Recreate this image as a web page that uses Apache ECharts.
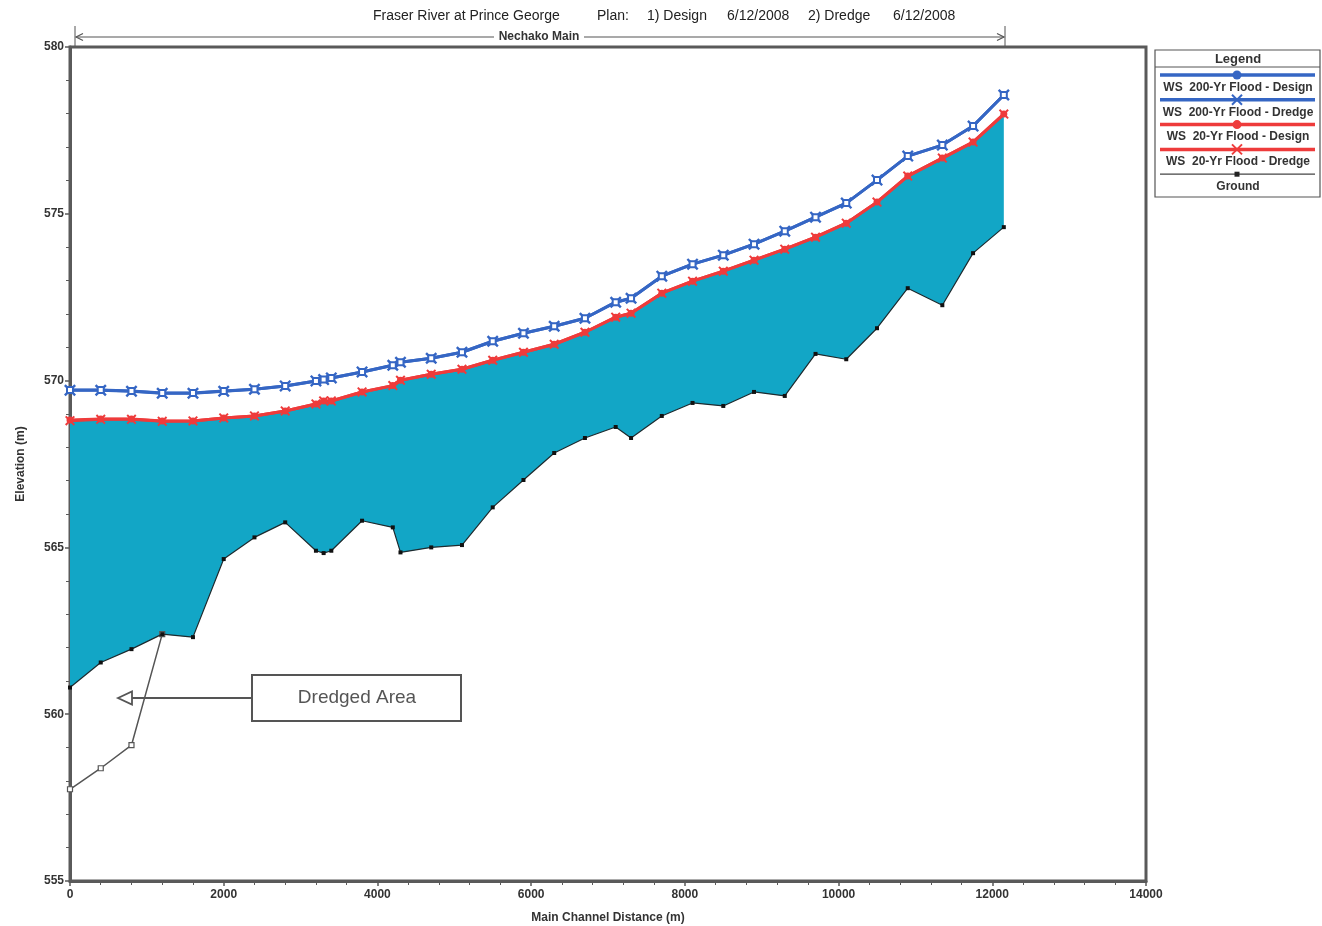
<!DOCTYPE html>
<html>
<head>
<meta charset="utf-8">
<title>Fraser River at Prince George - Profile</title>
<script src="https://cdn.jsdelivr.net/npm/echarts@6/dist/echarts.min.js"></script>
<style>
  html, body { margin: 0; padding: 0; background: #ffffff; }
  #chart { width: 1322px; height: 926px; }
</style>
</head>
<body>
<div id="chart"></div>
<script>
// River stations along the Nechako main channel (m)
const stations = [0, 400, 800, 1200, 1600, 2000, 2400, 2800, 3200, 3300, 3400, 3800, 4200, 4300,
  4700, 5100, 5500, 5900, 6300, 6700, 7100, 7300, 7700, 8100, 8500, 8900, 9300, 9700, 10100,
  10500, 10900, 11350, 11750, 12150];

// Water surface, 200-year flood (m)
const ws200Design = [569.72, 569.72, 569.69, 569.63, 569.63, 569.69, 569.74, 569.84, 569.99, 570.03,
  570.08, 570.26, 570.46, 570.55, 570.67, 570.85, 571.18, 571.42, 571.63, 571.87, 572.35, 572.47,
  573.13, 573.49, 573.76, 574.09, 574.48, 574.90, 575.32, 576.01, 576.73, 577.06, 577.63, 578.56];
const ws200Dredge = [569.71, 569.71, 569.68, 569.62, 569.62, 569.68, 569.74, 569.84, 569.99, 570.03,
  570.08, 570.26, 570.46, 570.55, 570.67, 570.85, 571.18, 571.42, 571.63, 571.87, 572.35, 572.47,
  573.13, 573.49, 573.76, 574.09, 574.48, 574.90, 575.32, 576.01, 576.73, 577.06, 577.63, 578.56];

// Water surface, 20-year flood (m)
const ws20Design = [568.82, 568.85, 568.85, 568.79, 568.79, 568.88, 568.94, 569.09, 569.30, 569.39,
  569.39, 569.66, 569.85, 570.01, 570.19, 570.34, 570.61, 570.85, 571.09, 571.45, 571.90, 572.02,
  572.62, 572.98, 573.28, 573.61, 573.94, 574.30, 574.72, 575.35, 576.13, 576.67, 577.15, 577.99];
const ws20Dredge = [568.80, 568.84, 568.84, 568.78, 568.79, 568.88, 568.94, 569.09, 569.30, 569.39,
  569.39, 569.66, 569.85, 570.01, 570.19, 570.34, 570.61, 570.85, 571.09, 571.45, 571.90, 572.02,
  572.62, 572.98, 573.28, 573.61, 573.94, 574.30, 574.72, 575.35, 576.13, 576.67, 577.15, 577.99];

// Channel invert, design geometry (m)
const groundDesign = [560.80, 561.55, 561.95, 562.40, 562.31, 564.65, 565.30, 565.75, 564.90, 564.83,
  564.90, 565.80, 565.60, 564.85, 565.00, 565.07, 566.20, 567.02, 567.83, 568.28, 568.61, 568.28,
  568.94, 569.33, 569.24, 569.66, 569.54, 570.80, 570.64, 571.57, 572.77, 572.26, 573.82, 574.60];

// Channel invert after dredging the downstream reach (m)
const dredgedStations = [0, 400, 800, 1200];
const groundDredged = [557.75, 558.38, 559.07, 562.40];

// Axis tick values
const xTicks = [0, 2000, 4000, 6000, 8000, 10000, 12000, 14000];
const yTicks = [555, 560, 565, 570, 575, 580];

const BLUE = '#3566c4';
const RED = '#ee3b3b';
const TEAL = '#12a6c6';
const AXIS = '#5a5a5a';
const FONT = '"Liberation Sans", Arial, sans-serif';
const X_SYMBOL = 'path://M0,1.4L1.4,0L5,3.6L8.6,0L10,1.4L6.4,5L10,8.6L8.6,10L5,6.4L1.4,10L0,8.6L3.6,5Z';

const pairs = (xs, ys) => xs.map((x, i) => [x, ys[i]]);

const chart = echarts.init(document.getElementById('chart'), null, { renderer: 'canvas' });

// Legend drawn as a boxed list: sample line above each caption
const legendRows = [
  { label: 'WS  200-Yr Flood - Design', color: BLUE, width: 3.5, marker: 'circle' },
  { label: 'WS  200-Yr Flood - Dredge', color: BLUE, width: 3.5, marker: 'x' },
  { label: 'WS  20-Yr Flood - Design', color: RED, width: 3.5, marker: 'circle' },
  { label: 'WS  20-Yr Flood - Dredge', color: RED, width: 3.5, marker: 'x' },
  { label: 'Ground', color: '#444444', width: 1.2, marker: 'square' }
];
const legendGraphics = [
  { type: 'rect', shape: { x: 1155, y: 50, width: 165, height: 147 },
    style: { fill: '#ffffff', stroke: '#555555', lineWidth: 1.2 }, z: 10 },
  { type: 'text', x: 1238, y: 59, z: 11,
    style: { text: 'Legend', font: 'bold 13px ' + FONT, fill: '#333333', align: 'center', verticalAlign: 'middle' } },
  { type: 'line', shape: { x1: 1155, y1: 67, x2: 1320, y2: 67 }, style: { stroke: '#555555', lineWidth: 1 }, z: 11 }
];
legendRows.forEach((row, i) => {
  const ly = 75 + i * 24.8;
  legendGraphics.push({ type: 'line', shape: { x1: 1160, y1: ly, x2: 1315, y2: ly },
    style: { stroke: row.color, lineWidth: row.width }, z: 11 });
  if (row.marker === 'circle') {
    legendGraphics.push({ type: 'circle', shape: { cx: 1237, cy: ly, r: 4.5 }, style: { fill: row.color }, z: 12 });
  } else if (row.marker === 'x') {
    legendGraphics.push({ type: 'polyline', shape: { points: [[1232, ly - 5], [1242, ly + 5]] },
      style: { stroke: row.color, lineWidth: 2 }, z: 12 });
    legendGraphics.push({ type: 'polyline', shape: { points: [[1232, ly + 5], [1242, ly - 5]] },
      style: { stroke: row.color, lineWidth: 2 }, z: 12 });
  } else {
    legendGraphics.push({ type: 'rect', shape: { x: 1234.5, y: ly - 2.5, width: 5, height: 5 },
      style: { fill: '#222222' }, z: 12 });
  }
  legendGraphics.push({ type: 'text', x: 1238, y: ly + 12.5, z: 12,
    style: { text: row.label, font: 'bold 12px ' + FONT, fill: '#333333', align: 'center', verticalAlign: 'middle' } });
});

// Title pieces
const titleParts = [
  { text: 'Fraser River at Prince George', x: 373 },
  { text: 'Plan:', x: 597 },
  { text: '1) Design', x: 647 },
  { text: '6/12/2008', x: 727 },
  { text: '2) Dredge', x: 808 },
  { text: '6/12/2008', x: 893 }
];
const titleGraphics = titleParts.map(p => ({
  type: 'text', x: p.x, y: 16,
  style: { text: p.text, font: '14px ' + FONT, fill: '#222222', align: 'left', verticalAlign: 'middle' }
}));

// Reach bracket above the plot
const reachGraphics = [
  { type: 'line', shape: { x1: 75, y1: 26, x2: 75, y2: 46 }, style: { stroke: '#555555', lineWidth: 1 } },
  { type: 'line', shape: { x1: 1005, y1: 26, x2: 1005, y2: 46 }, style: { stroke: '#555555', lineWidth: 1 } },
  { type: 'line', shape: { x1: 76, y1: 37, x2: 494, y2: 37 }, style: { stroke: '#555555', lineWidth: 1.2 } },
  { type: 'line', shape: { x1: 584, y1: 37, x2: 1004, y2: 37 }, style: { stroke: '#555555', lineWidth: 1.2 } },
  { type: 'polyline', shape: { points: [[83, 33.5], [76, 37], [83, 40.5]] }, style: { stroke: '#555555', lineWidth: 1.2, fill: 'none' } },
  { type: 'polyline', shape: { points: [[997, 33.5], [1004, 37], [997, 40.5]] }, style: { stroke: '#555555', lineWidth: 1.2, fill: 'none' } },
  { type: 'text', x: 539, y: 37,
    style: { text: 'Nechako Main', font: 'bold 12px ' + FONT, fill: '#333333', align: 'center', verticalAlign: 'middle' } }
];

// Call-out for the dredged reach
const calloutGraphics = [
  { type: 'rect', shape: { x: 252, y: 675, width: 209, height: 46 },
    style: { fill: '#ffffff', stroke: '#555555', lineWidth: 2 }, z: 20 },
  { type: 'text', x: 357, y: 698, z: 21,
    style: { text: 'Dredged Area', font: '19px ' + FONT, fill: '#555555', align: 'center', verticalAlign: 'middle' } },
  { type: 'line', shape: { x1: 131, y1: 698, x2: 252, y2: 698 }, style: { stroke: '#555555', lineWidth: 2 }, z: 20 },
  { type: 'polygon', shape: { points: [[118, 698], [132, 691.5], [132, 704.5]] },
    style: { fill: '#ffffff', stroke: '#555555', lineWidth: 1.8 }, z: 20 }
];

const option = {
  animation: false,
  backgroundColor: '#ffffff',
  textStyle: { fontFamily: FONT },
  grid: { left: 70, top: 47, right: 176, bottom: 45, show: true, outerBoundsMode: 'none', containLabel: false,
    borderColor: AXIS, borderWidth: 3, backgroundColor: 'transparent' },
  xAxis: {
    type: 'value',
    min: xTicks[0], max: xTicks[xTicks.length - 1], interval: xTicks[1] - xTicks[0],
    name: 'Main Channel Distance (m)', nameLocation: 'middle', nameGap: 31,
    nameTextStyle: { fontSize: 12, fontWeight: 'bold', color: '#333333', fontFamily: FONT },
    axisLine: { show: true, onZero: false, lineStyle: { color: AXIS, width: 3 } },
    axisTick: { show: true, length: 5, lineStyle: { color: AXIS, width: 1.5 } },
    minorTick: { show: true, splitNumber: 5, length: 4, lineStyle: { color: AXIS, width: 1 } },
    splitLine: { show: false },
    axisLabel: { margin: 8, fontSize: 12, fontWeight: 'bold', color: '#333333', fontFamily: FONT,
      formatter: v => String(v) }
  },
  yAxis: {
    type: 'value',
    min: yTicks[0], max: yTicks[yTicks.length - 1], interval: yTicks[1] - yTicks[0],
    name: 'Elevation (m)', nameLocation: 'middle', nameGap: 43, nameRotate: 90,
    nameTextStyle: { fontSize: 12, fontWeight: 'bold', color: '#333333', fontFamily: FONT },
    axisLine: { show: true, onZero: false, lineStyle: { color: AXIS, width: 3 } },
    axisTick: { show: true, length: 5, lineStyle: { color: AXIS, width: 1.5 } },
    minorTick: { show: true, splitNumber: 5, length: 4, lineStyle: { color: AXIS, width: 1 } },
    splitLine: { show: false },
    axisLabel: { margin: 6, fontSize: 12, fontWeight: 'bold', color: '#333333', fontFamily: FONT,
      formatter: v => String(v) }
  },
  series: [
    {
      // Water between the 20-yr design water surface and the design channel invert
      type: 'custom',
      name: 'Flow area',
      silent: true,
      clip: true,
      z: 1,
      data: [[stations[0], groundDesign[0]]],
      renderItem: function (params, api) {
        const top = stations.map((s, i) => api.coord([s, ws20Design[i]]));
        const bottom = stations.map((s, i) => api.coord([s, groundDesign[i]])).reverse();
        return { type: 'polygon', shape: { points: top.concat(bottom) }, style: { fill: TEAL } };
      }
    },
    {
      type: 'line', name: 'Ground (Dredge)', z: 3,
      data: pairs(dredgedStations, groundDredged),
      symbol: 'rect', symbolSize: 5,
      lineStyle: { color: '#555555', width: 1.5 },
      itemStyle: { color: '#ffffff', borderColor: '#555555', borderWidth: 1.2 }
    },
    {
      type: 'line', name: 'Ground', z: 4,
      data: pairs(stations, groundDesign),
      symbol: 'rect', symbolSize: 4,
      lineStyle: { color: '#1e2a2e', width: 1.2 },
      itemStyle: { color: '#111111' }
    },
    {
      type: 'line', name: 'WS 20-Yr Flood - Dredge', z: 5,
      data: pairs(stations, ws20Dredge),
      symbol: X_SYMBOL, symbolSize: 10,
      lineStyle: { color: RED, width: 3 },
      itemStyle: { color: RED }
    },
    {
      type: 'line', name: 'WS 20-Yr Flood - Design', z: 6,
      data: pairs(stations, ws20Design),
      symbol: 'circle', symbolSize: 7,
      lineStyle: { color: RED, width: 3 },
      itemStyle: { color: RED }
    },
    {
      type: 'line', name: 'WS 200-Yr Flood - Dredge', z: 7,
      data: pairs(stations, ws200Dredge),
      symbol: X_SYMBOL, symbolSize: 12,
      lineStyle: { color: BLUE, width: 3 },
      itemStyle: { color: BLUE }
    },
    {
      type: 'line', name: 'WS 200-Yr Flood - Design', z: 8,
      data: pairs(stations, ws200Design),
      symbol: 'emptyRect', symbolSize: 6,
      lineStyle: { color: BLUE, width: 3 },
      itemStyle: { color: BLUE, borderColor: BLUE, borderWidth: 1.5 }
    }
  ],
  graphic: { elements: titleGraphics.concat(reachGraphics, legendGraphics, calloutGraphics) }
};

chart.setOption(option);
</script>
</body>
</html>
